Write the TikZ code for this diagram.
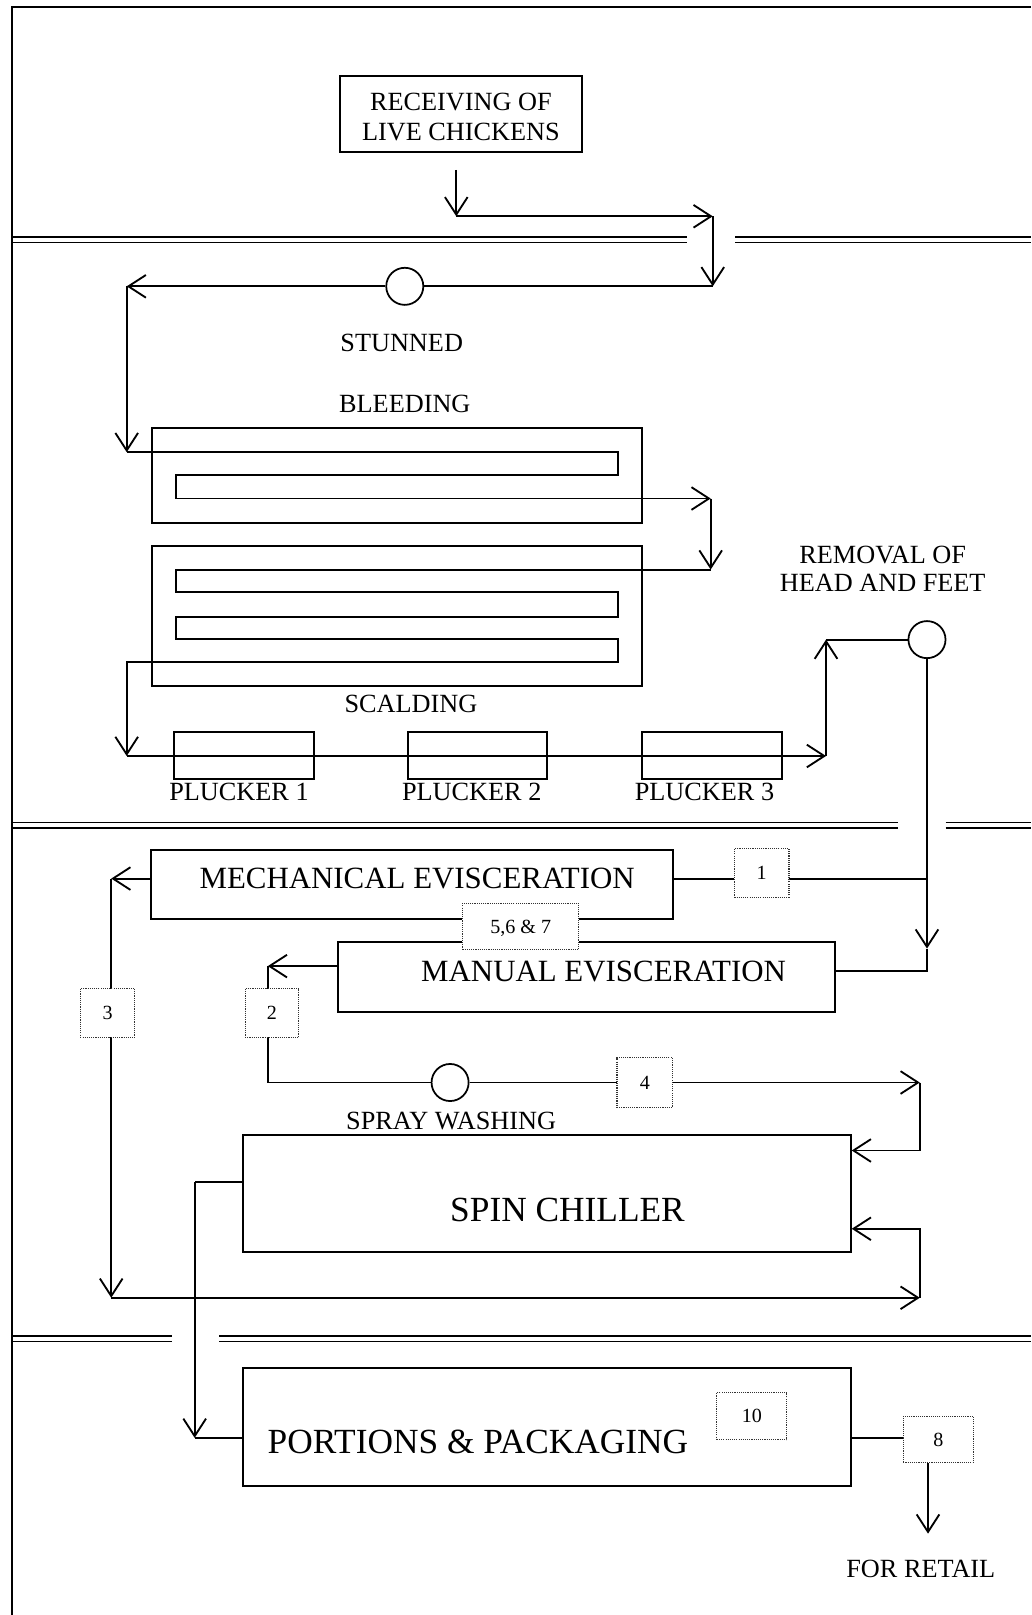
\documentclass[tikz,border=0pt]{standalone}
\usepackage{fontspec}
\setmainfont{Liberation Serif}
\usetikzlibrary{arrows.meta}
\newcommand\myfa{\fontsize{25.5}{29}\selectfont}
\newcommand\myfb{\fontsize{30}{33}\selectfont}
\newcommand\myfc{\fontsize{34.3}{38}\selectfont}
\newcommand\myfd{\fontsize{19.5}{22}\selectfont}
\begin{document}
\begin{tikzpicture}[x=1pt,y=-1pt,
  ln/.style={line width=1.8pt},
  arr/.style={ln,-{Straight Barb[length=17pt,width=22pt]}},
  box/.style={draw,line width=1.9pt,inner sep=0pt},
  circ/.style={draw,circle,line width=1.7pt,minimum size=36pt,inner sep=0pt,fill=white},
  ts/.style={inner sep=0pt,font=\myfa,text height=16.9pt,text depth=0pt},
  tm/.style={inner sep=0pt,font=\myfb,text height=19.9pt,text depth=0pt},
  tl/.style={inner sep=0pt,font=\myfc,text height=22.7pt,text depth=0pt},
  dbox/.style={draw=black!80,densely dotted,line width=1.1pt,fill=white,inner sep=0pt,font=\myfd,text height=12.9pt,text depth=0pt}]
\useasboundingbox (0,0) rectangle (1001,1568);
% frame
\draw[ln] (12,1568) -- (12,7) -- (1001,7);
% separators
\foreach \y in {230,235.5} {\draw[ln] (12,\y) -- (667,\y); \draw[ln] (714,\y) -- (1001,\y);}
\foreach \y in {798.5,803.5} {\draw[ln] (12,\y) -- (872,\y); \draw[ln] (918,\y) -- (1001,\y);}
\foreach \y in {1297,1302.5} {\draw[ln] (12,\y) -- (167,\y); \draw[ln] (213,\y) -- (1001,\y);}
% boxes
\node[box,minimum width=235pt,minimum height=74pt] (recv) at (447.5,111) {};
\node[ts] (recvA) at (447.5,99) {RECEIVING OF};
\node[ts] (recvB) at (447.5,128) {LIVE CHICKENS};
\node[ts] (stun) at (390,333) {STUNNED};
\node[ts] (bleedT) at (393,392) {BLEEDING};
\node[box,minimum width=475pt,minimum height=92pt] (bleed) at (385.5,462) {};
\node[box,minimum width=475pt,minimum height=136pt] (scald) at (385.5,598) {};
\node[ts] (scaldT) at (399,683) {SCALDING};
\node[box,minimum width=136pt,minimum height=45pt] (p1) at (237,733.5) {};
\node[box,minimum width=135pt,minimum height=45pt] (p2) at (463.5,733.5) {};
\node[box,minimum width=136pt,minimum height=45pt] (p3) at (691,733.5) {};
\node[ts] (p1T) at (232,769) {PLUCKER 1};
\node[ts] (p2T) at (458,769) {PLUCKER 2};
\node[ts] (p3T) at (684,769) {PLUCKER 3};
\node[ts] (remA) at (857,539) {REMOVAL OF};
\node[ts] (remB) at (857,566) {HEAD AND FEET};
\node[box,minimum width=506pt,minimum height=67pt] (mech) at (400,858.5) {};
\node[tm] (mechT) at (405,853) {MECHANICAL EVISCERATION};
\node[box,minimum width=483pt,minimum height=68pt] (manual) at (569.5,949) {};
\node[tm] (manT) at (586,943) {MANUAL EVISCERATION};
\node[ts] (sprayT) at (438,1088) {SPRAY WASHING};
\node[box,minimum width=590pt,minimum height=114pt] (chill) at (531,1159) {};
\node[tl] (chillT) at (551,1175) {SPIN CHILLER};
\node[box,minimum width=590pt,minimum height=115pt] (port) at (531,1385.5) {};
\node[tl] (portT) at (464,1400) {PORTIONS \& PACKAGING};
\node[ts] (retail) at (894,1523) {FOR RETAIL};
% coordinates
\coordinate (a0) at (443,165);
\coordinate (a1) at (443,210);
\coordinate (a2) at (692,210);
\coordinate (a3) at (692,278);
\coordinate (a4) at (123,278);
\coordinate (a5) at (123,439);
\coordinate (s1) at (600,439);
\coordinate (s2) at (600,461);
\coordinate (s3) at (171,461);
\coordinate (s4) at (171,484);
\coordinate (a6) at (690,484);
\coordinate (a7) at (690,553);
\coordinate (t1) at (171,553);
\coordinate (t2) at (171,575);
\coordinate (t3) at (600,575);
\coordinate (t4) at (600,599);
\coordinate (t5) at (171,599);
\coordinate (t6) at (171,620);
\coordinate (t7) at (600,620);
\coordinate (t8) at (600,643);
\coordinate (t9) at (123,643);
\coordinate (a8) at (123,734);
\coordinate (a9) at (802,734);
\coordinate (a10) at (802,621);
\coordinate (r1) at (900,921);
\coordinate (r2) at (900,943);
\coordinate (m1) at (900,853);
\coordinate (l1) at (108,853);
\coordinate (l2) at (108,1260);
\coordinate (l3) at (893,1260);
\coordinate (l4) at (893,1193);
\coordinate (k1) at (260,938);
\coordinate (k2) at (260,1051);
\coordinate (k3) at (893,1051);
\coordinate (k4) at (893,1117);
\coordinate (q1) at (189,1148);
\coordinate (q2) at (189,1396);
\coordinate (f1) at (901,1489);
% circles
\node[circ] (c1) at (393,278) {};
\node[circ] (c2) at (900,621) {};
\node[circ] (c3) at (437,1051) {};
% connectors
\draw[arr] (a0) -- (a1);
\draw[arr] (a1) -- (a2);
\draw[arr] (a2) -- (a3);
\draw[ln] (a3) -- (c1.east);
\draw[arr] (c1.west) -- (a4);
\draw[arr] (a4) -- (a5);
\draw[arr] (a5) -- (s1) -- (s2) -- (s3) -- (s4) -- (a6);
\draw[arr] (a6) -- (a7);
\draw[arr] (a7) -- (t1) -- (t2) -- (t3) -- (t4) -- (t5) -- (t6) -- (t7) -- (t8) -- (t9) -- (a8);
\draw[arr] (a8) -- (a9);
\draw[arr] (a9) -- (a10);
\draw[ln] (a10) -- (c2.west);
\draw[arr] (c2.south) -- (r1);
\draw[ln] (r1) -- (r2) -- (manual.east |- r2);
\draw[ln] (mech.east |- m1) -- (m1);
\draw[arr] (mech.west |- l1) -- (l1);
\draw[arr] (l1) -- (l2);
\draw[arr] (l2) -- (l3);
\draw[arr] (l3) -- (l4) -- (chill.east |- l4);
\draw[arr] (manual.west |- k1) -- (k1);
\draw[ln] (k1) -- (k2) -- (c3.west);
\draw[arr] (c3.east) -- (k3);
\draw[arr] (k3) -- (k4) -- (chill.east |- k4);
\draw[ln] (chill.west |- q1) -- (q1);
\draw[arr] (q1) -- (q2);
\draw[ln] (q2) -- (port.west |- q2);
% dotted boxes
\node[dbox,minimum width=53pt,minimum height=47pt] (b1) at (739.5,847.5) {1};
\node[dbox,minimum width=113pt,minimum height=45pt] (b567) at (505.5,899.5) {5,6 \& 7};
\node[dbox,minimum width=53pt,minimum height=47pt] (b3) at (104.5,983.5) {3};
\node[dbox,minimum width=52pt,minimum height=47pt] (b2) at (264,983.5) {2};
\node[dbox,minimum width=54pt,minimum height=48pt] (b4) at (626,1051) {4};
\node[dbox,minimum width=68pt,minimum height=46pt] (b10) at (730,1375) {10};
\node[dbox,minimum width=68pt,minimum height=45pt] (b8) at (911,1397.5) {8};
\draw[ln] (port.east |- q2) -- (b8.west |- q2);
\draw[arr] (b8.south -| f1) -- (f1);
\end{tikzpicture}
\end{document}
